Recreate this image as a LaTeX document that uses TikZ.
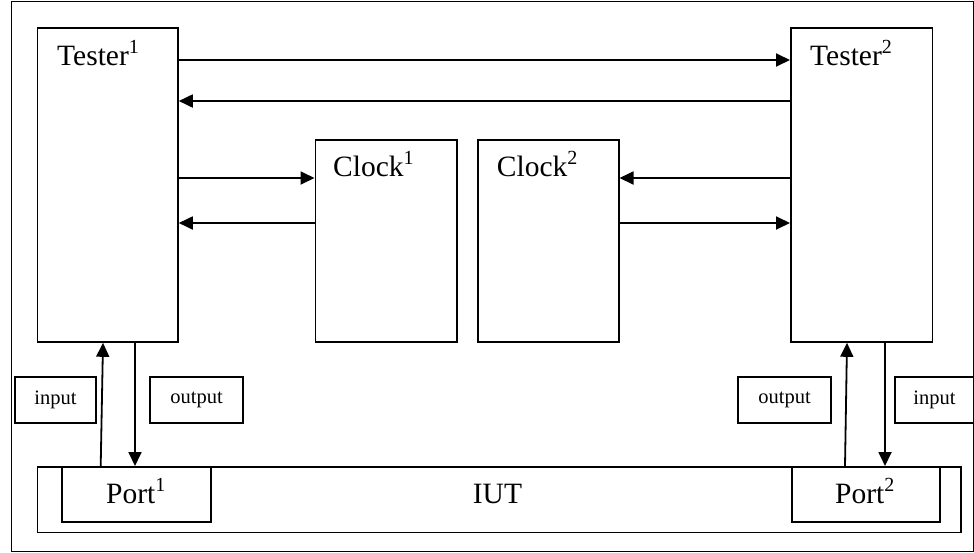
\documentclass[tikz,border=0pt]{standalone}
\usepackage{fontspec}
\setmainfont{Liberation Serif}
\usetikzlibrary{arrows.meta,calc}
\newcommand{\bigtxt}{\fontsize{29.5}{31}\selectfont}
\newcommand{\smalltxt}{\fontsize{20.5}{22}\selectfont}
\newcommand{\supr}[1]{\raisebox{12pt}{\fontsize{20}{20}\selectfont #1}}
\tikzset{
  box/.style={draw, line width=1.8pt, inner sep=0pt, anchor=north west},
  lbl/.style={anchor=base west, inner sep=0pt, font=\bigtxt},
  tag/.style={draw, line width=1.8pt, inner sep=0pt, font=\smalltxt, anchor=north west},
  arr/.style={line width=1.8pt, -{Triangle[length=14pt,width=13pt]}}
}
\begin{document}
\begin{tikzpicture}[x=1pt,y=-1pt]
\useasboundingbox (0,0) rectangle (974,552);
% frame
\node[box, line width=1.4pt, minimum width=962.5pt, minimum height=549.5pt] (frame) at (10.5,1) {};
% testers
\node[box, minimum width=140.5pt, minimum height=314pt] (t1) at (36.5,27) {};
\node[box, minimum width=141.5pt, minimum height=314pt] (t2) at (790,27) {};
% clocks
\node[box, minimum width=141.5pt, minimum height=202pt] (c1) at (314.5,139) {};
\node[box, minimum width=141pt, minimum height=202pt] (c2) at (476.7,139) {};
% IUT and ports
\node[box, minimum width=923.5pt, minimum height=65.5pt] (iut) at (36.5,466) {};
\node[box, minimum width=149.3pt, minimum height=54.7pt] (p1) at (60.7,466) {};
\node[box, minimum width=148.3pt, minimum height=55pt] (p2) at (790.7,466) {};
% input/output tags
\node[tag, minimum width=81.3pt, minimum height=46.6pt] (in1) at (14,375.7) {input};
\node[tag, minimum width=93.3pt, minimum height=46.6pt] (out1) at (149,375.7) {output};
\node[tag, minimum width=92.7pt, minimum height=46.6pt] (out2) at (737.3,375.7) {output};
\node[tag, minimum width=79pt, minimum height=46.6pt] (in2) at (894,375.7) {input};
% labels
\node[lbl] (lt1) at (57,65) {Tester\supr{1}};
\node[lbl] (lt2) at (810,65) {Tester\supr{2}};
\node[lbl] (lc1) at (333,176.7) {Clock\supr{1}};
\node[lbl] (lc2) at (496.7,176.7) {Clock\supr{2}};
\node[lbl] (lp1) at (106,503.3) {Port\supr{1}};
\node[lbl] (lp2) at (835,503.3) {Port\supr{2}};
\node[lbl] (liut) at (472.7,503.3) {IUT};
% tester <-> tester
\draw[arr] ($(t1.north east)+(0,33)$) -- ($(t2.north west)+(0,33)$);
\draw[arr] ($(t2.north west)+(0,74)$) -- ($(t1.north east)+(0,74)$);
% tester <-> clocks
\draw[arr] ($(t1.north east)+(0,151)$) -- ($(c1.north west)+(0,39)$);
\draw[arr] ($(c1.north west)+(0,84)$) -- ($(t1.north east)+(0,196)$);
\draw[arr] ($(t2.north west)+(0,151)$) -- ($(c2.north east)+(0,39)$);
\draw[arr] ($(c2.north east)+(0,84)$) -- ($(t2.north west)+(0,196)$);
% ports <-> testers
\draw[arr] ($(p1.north west)+(40,0)$) -- ($(t1.south west)+(66.5,0)$);
\draw[arr] ($(t1.south west)+(98.5,0)$) -- ($(p1.north west)+(74.3,0)$);
\draw[arr] ($(p2.north west)+(54.3,0)$) -- ($(t2.south west)+(57,0)$);
\draw[arr] ($(t2.south west)+(95,0)$) -- ($(p2.north west)+(94.3,0)$);
\end{tikzpicture}
\end{document}
